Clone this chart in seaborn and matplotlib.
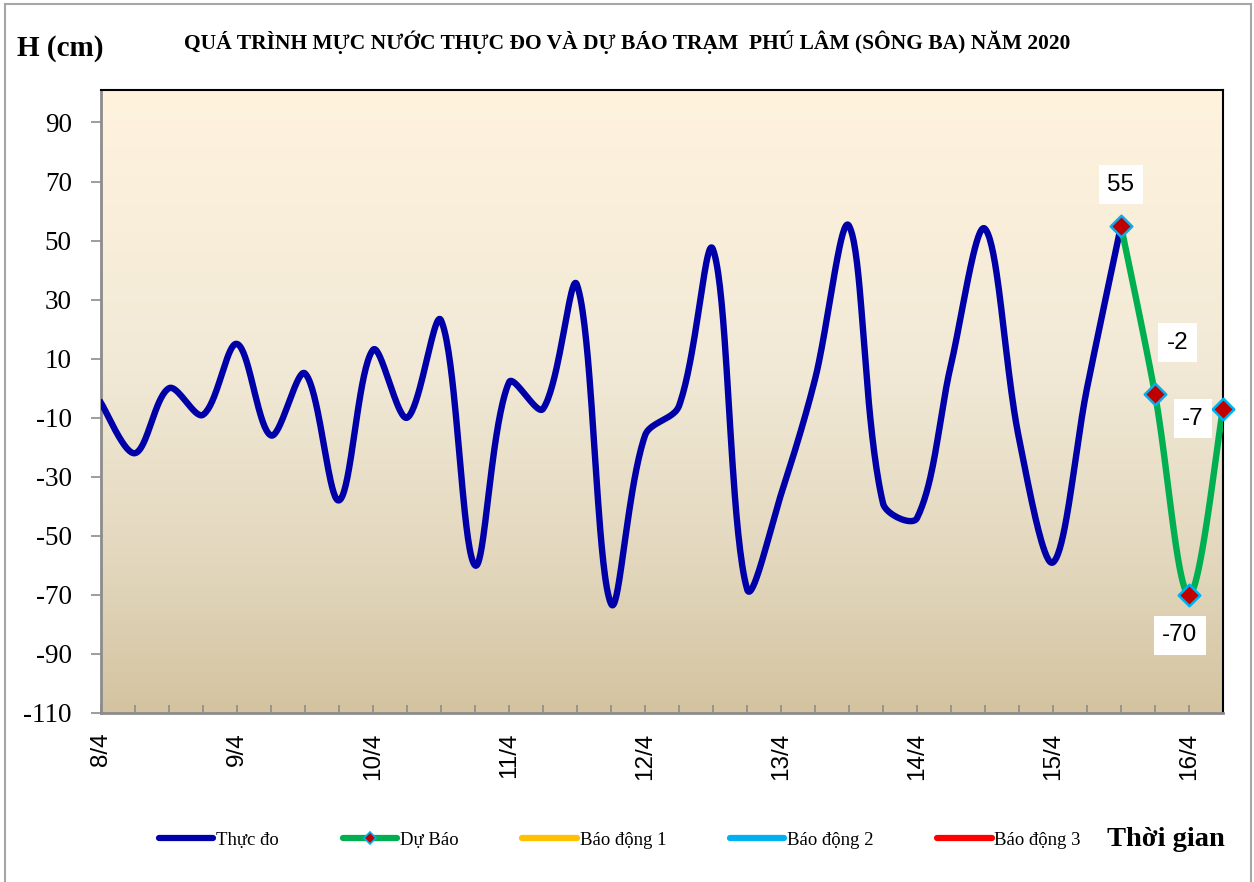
import numpy as np
import pandas as pd
import matplotlib
matplotlib.use("Agg")
import matplotlib.pyplot as plt
from matplotlib.colors import LinearSegmentedColormap
from matplotlib.lines import Line2D
from matplotlib.patches import Rectangle
import seaborn as sns

# ---------------- data ----------------
day_labels = ["8/4", "9/4", "10/4", "11/4", "12/4", "13/4", "14/4", "15/4", "16/4"]
steps_per_day = 4  # 6-hourly values
observed = [-5, -22, 0, -9, 15, -16, 5, -38, 13, -10, 23, -60, 2, -7, 35, -73,
            -16, -6, 47, -68, -36, 3, 55, -39, -44, 8, 54, -17, -59, 0, 55]
forecast = [55, -2, -70, -7]
forecast_start = len(observed) - 1
legend_labels = ["Thực đo", "Dự Báo", "Báo động 1", "Báo động 2", "Báo động 3"]
y_ticks = list(range(-110, 91, 20))

W, H = 1254, 882
AX_L, AX_R, AX_T, AX_B = 101, 1223, 90, 713
ymin, ymax = -110, 101
xmax = len(observed) - 1 + len(forecast) - 1
sx = (AX_R - AX_L) / xmax          # screen px per x step
sy = (AX_B - AX_T) / (ymax - ymin)  # screen px per y unit


# ---------------- helpers ----------------
def smooth(xs, ys, n=40):
    """Excel-like smoothed line: Bezier through the points with tangents
    weighted by the screen length of adjacent segments."""
    P = np.column_stack([np.asarray(xs, float) * sx, np.asarray(ys, float) * sy])
    m = len(P)
    out = []
    for i in range(m - 1):
        p0 = P[i - 1] if i > 0 else P[i]
        p1 = P[i]; p2 = P[i + 1]
        p3 = P[i + 2] if i + 2 < m else P[i + 1]
        d01 = np.linalg.norm(p1 - p0)
        d12 = np.linalg.norm(p2 - p1)
        d23 = np.linalg.norm(p3 - p2)
        w1 = d12 / (d01 + d12) if d01 + d12 > 0 else 0.5
        w2 = d12 / (d12 + d23) if d12 + d23 > 0 else 0.5
        if i == 0:
            w1 = 0.5
        if i + 2 >= m:
            w2 = 0.5
        c1 = p1 + (p2 - p0) * w1 / 3.0
        c2 = p2 - (p3 - p1) * w2 / 3.0
        t = np.linspace(0, 1, n, endpoint=(i == m - 2))[:, None]
        seg = ((1 - t) ** 3) * p1 + 3 * ((1 - t) ** 2) * t * c1 + 3 * (1 - t) * t ** 2 * c2 + t ** 3 * p2
        out.append(seg)
    out = np.vstack(out)
    return out[:, 0] / sx, out[:, 1] / sy


obs_x = np.arange(len(observed))
fc_x = np.arange(forecast_start, forecast_start + len(forecast))
ox, oy = smooth(obs_x, observed)
fx, fy = smooth(fc_x, forecast)
df_obs = pd.DataFrame({"t": ox, "H": oy})
df_fc = pd.DataFrame({"t": fx, "H": fy})
df_pts = pd.DataFrame({"t": fc_x, "H": forecast})

# ---------------- figure ----------------
fig = plt.figure(figsize=(W / 100, H / 100), dpi=100)
fig.patch.set_facecolor("white")
ax = fig.add_axes([AX_L / W, 1 - AX_B / H, (AX_R - AX_L) / W, (AX_B - AX_T) / H])

# gradient background
cmap = LinearSegmentedColormap.from_list(
    "bg", [(0.0, "#D3C3A0"), (0.25, "#E3D8BE"), (0.55, "#F1E9D6"), (1.0, "#FFF3DE")])
grad = np.linspace(0, 1, 256)[:, None]
ax.imshow(grad, extent=[0, xmax, ymin, ymax], origin="lower", aspect="auto",
          cmap=cmap, zorder=0, interpolation="bicubic")

sns.lineplot(data=df_obs, x="t", y="H", ax=ax, color="#0000A8", lw=4.6,
             sort=False, estimator=None, zorder=3, legend=False)
sns.lineplot(data=df_fc, x="t", y="H", ax=ax, color="#00B050", lw=4.6,
             sort=False, estimator=None, zorder=4, legend=False)
sns.scatterplot(data=df_pts, x="t", y="H", ax=ax, marker="D", s=120,
                color="#C00000", edgecolor="#00B0F0", linewidth=1.8, zorder=5,
                legend=False, clip_on=False)

# data labels (55, -2, -70, -7)
offsets = [(0, 29.5), (16, 37), (-6.5, -29), (-21.5, -7)]
for xv, yv, off in zip(fc_x, forecast, offsets):
    ax.annotate(f"{yv}", (xv, yv), xytext=off, textcoords="offset points",
                ha="center", va="center", fontsize=17.5, family="Liberation Sans",
                color="black", zorder=6,
                bbox=dict(boxstyle="square,pad=0.35", fc="white", ec="none"))

ax.set_xlim(0, xmax)
ax.set_ylim(ymin, ymax)
ax.set_xlabel("")
ax.set_ylabel("")

ax.set_xticks(np.arange(0, xmax + 1, steps_per_day))
ax.set_xticklabels(day_labels, rotation=90, fontsize=17.5, family="Liberation Sans")
ax.set_xticks(np.arange(0, xmax + 1, 1), minor=True)
ax.tick_params(axis="x", which="both", direction="in", length=6, width=1.2,
               color="#8C8C8C", pad=14)
ax.set_yticks(y_ticks)
ax.set_yticklabels([str(v) for v in y_ticks], fontsize=19.5, family="Liberation Serif")
ax.tick_params(axis="y", direction="out", length=7, width=1.2, color="#8C8C8C", pad=14)

for s in ["left", "bottom"]:
    ax.spines[s].set_color("#8C8C8C"); ax.spines[s].set_linewidth(2)
for s in ["top", "right"]:
    ax.spines[s].set_color("black"); ax.spines[s].set_linewidth(1.5)

# titles
fig.text(17 / W, 1 - 49 / H, "H (cm)", fontsize=21, fontweight="bold",
         family="Liberation Serif", ha="left", va="center")
fig.text(627 / W, 1 - 42 / H,
         "QUÁ TRÌNH MỰC NƯỚC THỰC ĐO VÀ DỰ BÁO TRẠM  PHÚ LÂM (SÔNG BA) NĂM 2020",
         fontsize=15.5, fontweight="bold", family="Liberation Serif",
         ha="center", va="center")
fig.text(1107 / W, 1 - 840 / H, "Thời gian", fontsize=20.5, fontweight="bold",
         family="Liberation Serif", ha="left", va="center")

# legend
handles = [
    Line2D([], [], color="#0000A8", lw=4.5, solid_capstyle="round"),
    Line2D([], [], color="#00B050", lw=4.5, marker="D", ms=6,
           mfc="#C00000", mec="#00B0F0", mew=1.2, solid_capstyle="round"),
    Line2D([], [], color="#FFC000", lw=4.5, solid_capstyle="round"),
    Line2D([], [], color="#00B0F0", lw=4.5, solid_capstyle="round"),
    Line2D([], [], color="#FF0000", lw=4.5, solid_capstyle="round"),
]
fig.legend(handles, legend_labels, loc="center", bbox_to_anchor=(620 / W, 1 - 840 / H),
           ncol=5, frameon=False, handlelength=2.9, handletextpad=0.15,
           columnspacing=3.4, prop={"family": "Liberation Serif", "size": 13.5})

# outer frame
fig.patches.append(Rectangle((5 / W, -0.01), (1251 - 5) / W, 1 - 4 / H + 0.01,
                             transform=fig.transFigure, fill=False,
                             ec="#A6A6A6", lw=1.5))

fig.savefig("out.png", dpi=100)
